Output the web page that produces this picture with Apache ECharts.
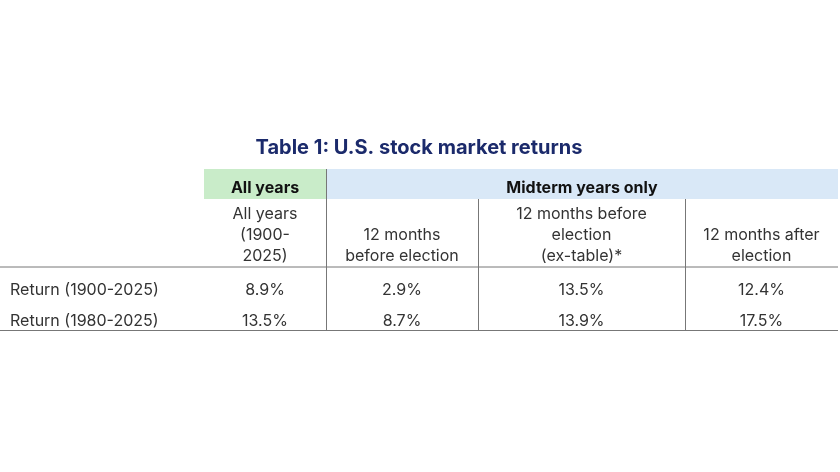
<!DOCTYPE html>
<html><head><meta charset="utf-8">
<script src="https://cdn.jsdelivr.net/npm/echarts@6/dist/echarts.min.js"></script>
<style>html,body{margin:0;background:#fff}#c{width:840px;height:472px}</style>
</head><body><div id="c"></div>
<script>
var title = 'Table 1: U.S. stock market returns';
var groups = ['All years', 'Midterm years only'];
var columns = [
  ['All years', '(1900-', '2025)'],
  ['12 months', 'before election'],
  ['12 months before', 'election', '(ex-table)*'],
  ['12 months after', 'election']
];
var rowLabels = ['Return (1900-2025)', 'Return (1980-2025)'];
var row1900 = ['8.9%', '2.9%', '13.5%', '12.4%'];
var row1980 = ['13.5%', '8.7%', '13.9%', '17.5%'];

var font = 'Inter, "Noto Sans", sans-serif';
var textColor = '#333';
var colX = [204, 326, 478, 685, 838];   // column edges
var els = [];

function txt(x, y, s, opt) {
  opt = opt || {};
  els.push({ type: 'text', x: x, y: y, style: {
    text: s, font: (opt.weight || 'normal') + ' ' + (opt.size || 16) + 'px ' + font,
    fill: opt.color || textColor, align: opt.align || 'center', verticalAlign: 'middle' } });
}
function line(x1, y1, x2, y2, c) {
  els.push({ type: 'line', shape: { x1: x1, y1: y1, x2: x2, y2: y2 },
    style: { stroke: c || '#777', lineWidth: 1 } });
}

txt(419, 148, title, { weight: 'bold', size: 20, color: '#1b2a6b' });
els.push({ type: 'rect', shape: { x: colX[0], y: 169, width: colX[1] - colX[0], height: 30 }, style: { fill: '#c9ecc9' } });
els.push({ type: 'rect', shape: { x: colX[1], y: 169, width: colX[4] - colX[1], height: 30 }, style: { fill: '#d9e8f7' } });
txt((colX[0] + colX[1]) / 2, 188, groups[0], { weight: 'bold', color: '#111' });
txt((colX[1] + colX[4]) / 2, 188, groups[1], { weight: 'bold', color: '#111' });

columns.forEach(function (lines, i) {
  var cx = (colX[i] + colX[i + 1]) / 2;
  var y0 = 256 - (lines.length - 1) * 21;
  lines.forEach(function (s, j) { txt(cx, y0 + j * 21, s); });
});

[row1900, row1980].forEach(function (vals, r) {
  var y = 290 + r * 31;
  txt(10, y, rowLabels[r], { align: 'left' });
  vals.forEach(function (v, i) { txt((colX[i] + colX[i + 1]) / 2, y, v); });
});

line(0, 267, 838, 267);
line(0, 330.5, 838, 330.5);
line(326.5, 169, 326.5, 330);
line(478.5, 199, 478.5, 330);
line(685.5, 199, 685.5, 330);

var chart = echarts.init(document.getElementById('c'));
chart.setOption({ animation: false, graphic: { elements: els } });
</script></body></html>
